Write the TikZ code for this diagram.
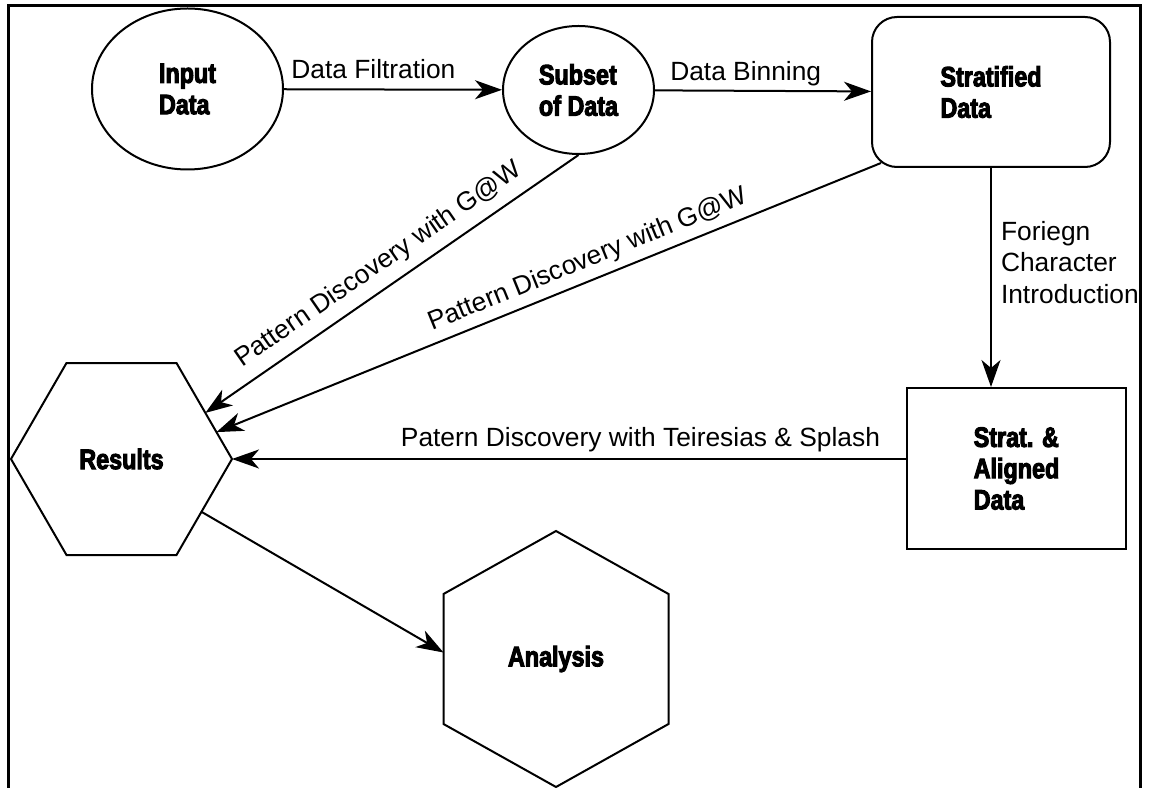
\documentclass[tikz,border=0pt]{standalone}
\usepackage{fontspec}
\setmainfont{Liberation Sans}
\newfontfamily\headfont{Liberation Sans}[FakeStretch=0.83,BoldFeatures={FakeBold=3.5}]
\usetikzlibrary{arrows.meta,shapes.geometric,calc}

\begin{document}
\begin{tikzpicture}[x=0.2mm,y=-0.2mm,line width=0.4mm]
\tikzstyle{every node}=[inner sep=0pt]
\tikzstyle{stage}=[draw,align=left,font=\headfont\bfseries\fontsize{16}{17.8}\selectfont]
\tikzstyle{tag}=[font=\fontsize{15}{18}\selectfont,text depth=0pt]
\tikzstyle{flow}=[-{Stealth[length=5.4mm,width=3.8mm,inset=1.6mm]}]

\useasboundingbox (0,0) rectangle (1149,788);
% frame, open at the bottom
\draw[line width=0.6mm] (8,788) -- (8,6) -- (1140,6) -- (1140,788);

\draw
  (187.5,  89  ) node [stage,ellipse,minimum width=38.2mm,minimum height=32.2mm] (inp) {Input\\Data}
  (578.5,  90  ) node [stage,ellipse,minimum width=30.2mm,minimum height=25.6mm] (sub) {Subset\\of Data}
  (991  ,  92  ) node [stage,rounded corners=5mm,minimum width=47.6mm,minimum height=30mm] (str) {Stratified\\Data}
  (1016.5,468.5) node [stage,minimum width=43.8mm,minimum height=32.2mm] (sad) {Strat. \&\\Aligned\\Data}
  (121.5, 459  ) node [stage,draw=none] (res) {Results}
  (556  , 659  ) node [stage,draw=none] (ana) {Analysis}
;
% hexagons round the last two stages
\draw (res) ++(-110.5,0) coordinate (res-w)
  -- ++( 55.5,-96) coordinate (res-nw) -- ++( 110,0) coordinate (res-ne)
  -- ++( 55.5, 96) coordinate (res-e)  -- ++(-55.5,96) coordinate (res-se)
  -- ++(-110,0) coordinate (res-sw) -- cycle;
\draw (ana) ++(0,-128) coordinate (ana-n)
  -- ++( 112.5, 63) coordinate (ana-ne) -- ++(0,130) coordinate (ana-se)
  -- ++(-112.5, 63) coordinate (ana-s)  -- ++(-112.5,-63) coordinate (ana-sw)
  -- ++(0,-130) coordinate (ana-nw) -- cycle;

\path[every edge/.append style={flow}]
(inp) edge node [tag,above=1.9mm,pos=.41] {Data Filtration} (sub)
(sub) edge node [tag,above=1.9mm,pos=.42] {Data Binning} (str)
(str.south) edge node [tag,right=1.8mm,pos=.43,align=left] {Foriegn\\Character\\Introduction} (str.south |- sad.north)
(sad.west |- res-e) edge node [tag,above=2.4mm,pos=.394] {Patern Discovery with Teiresias \& Splash} (res-e)
(sub.south) edge node [tag,above=3mm,sloped,pos=.50] {Pattern Discovery with G@W} ($(res-ne)!.52!(res-e)$)
([xshift=2mm,yshift=1mm]str.south west) edge node [tag,above=2.4mm,sloped,pos=.43] {Pattern Discovery with G@W} ($(res-ne)!.72!(res-e)$)
($(res-e)!.55!(res-se)$) edge ($(ana-nw)!.45!(ana-sw)$)
;
\end{tikzpicture}
\end{document}
